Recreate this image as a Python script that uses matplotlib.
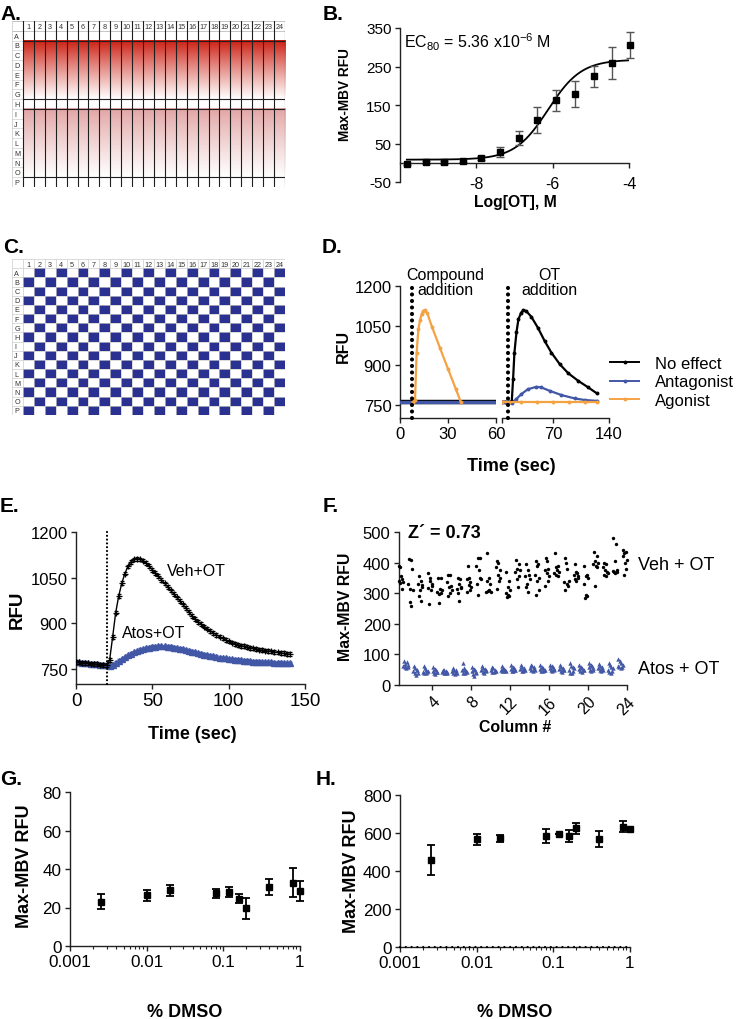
import numpy as np
import matplotlib
matplotlib.use('Agg')
import matplotlib.pyplot as plt
from matplotlib.lines import Line2D
from matplotlib.colors import ListedColormap

plt.rcParams['font.family'] = ['Liberation Sans', 'DejaVu Sans']
plt.rcParams['mathtext.fontset'] = 'custom'
plt.rcParams['mathtext.rm'] = 'Liberation Sans'
plt.rcParams['mathtext.it'] = 'Liberation Sans:italic'
plt.rcParams['mathtext.bf'] = 'Liberation Sans:bold'
plt.rcParams['axes.unicode_minus'] = False

# ---------------- data ----------------
PLATE_ROWS = list('ABCDEFGHIJKLMNOP')
PLATE_COLS = list(range(1, 25))

# B: OT dose response
B_LOGC = [-9.82, -9.33, -8.84, -8.36, -7.87, -7.38, -6.89, -6.40, -5.91, -5.42, -4.93, -4.44, -3.98]
B_RFU = [-4, 1, 1, 5, 13, 28, 64, 111, 162, 179, 225, 259, 306]
B_SEM = [3, 3, 3, 4, 5, 14, 18, 33, 28, 33, 27, 41, 34]
B_FIT = dict(bottom=8, top=268, logec50=-6.12, hill=1.0)

# D: schematic traces
D_T_CMP = [0, 10, 20, 30, 40, 50, 60]
D_BASE_CMP = [761, 761, 761, 761, 761, 761, 761]
D_T_AGO = [8, 9.4, 10.4, 11.5, 12.5, 13.5, 14.5, 15.6, 17, 20, 25, 30, 35, 38]
D_AGO = [761, 770, 948, 1036, 1070, 1093, 1104, 1109, 1098, 1045, 965, 886, 808, 761]
D_T_NOEFF = [6.3, 10, 15.5, 18.5, 20.1, 21.8, 24.3, 26.8, 30.2, 33.1, 36.5, 42.8, 51.1, 59.5,
             67.9, 78.4, 88.9, 101.4, 114, 124.5]
D_NOEFF = [761, 761, 761, 765, 847, 948, 1024, 1074, 1099, 1109, 1105, 1084, 1042, 992,
           948, 904, 870, 841, 816, 794]
D_T_ANT = [6.3, 10, 15.5, 18.5, 23.9, 30.2, 38.6, 49, 55.3, 65.8, 80.5, 97.2, 110, 124.5]
D_ANT = [761, 761, 761, 756, 771, 790, 809, 818, 816, 803, 787, 774, 768, 765]
D_T_AGO_OT = [6.3, 15.5, 30, 50, 70, 90, 110, 124.5]
D_AGO_OT = [761, 761, 761, 761, 761, 761, 761, 761]
D_ADD_CMP = 7.3
D_ADD_OT = 14.3

# E: kinetic traces
E_T = list(range(0, 141, 2))
E_VEH = [772, 771, 770, 769, 768, 767, 766, 765, 764, 763, 762, 778, 855, 935, 990, 1032,
         1063, 1087, 1102, 1110, 1112, 1110, 1106, 1098, 1088, 1076, 1066, 1055, 1043, 1031,
         1020, 1008, 996, 985, 973, 962, 949, 936, 924, 914, 905, 897, 889, 882, 875, 868,
         862, 856, 850, 845, 840, 836, 832, 829, 826, 824, 821, 819, 817, 815, 813, 811,
         810, 808, 807, 805, 804, 802, 801, 799, 798]
E_ATOS = [772, 771, 770, 769, 768, 767, 766, 765, 764, 763, 762, 760, 764, 770, 776, 782,
          788, 794, 799, 804, 808, 812, 815, 818, 820, 822, 823, 824, 824, 824, 823, 822,
          820, 818, 816, 814, 811, 809, 806, 804, 801, 799, 797, 795, 793, 791, 789, 787,
          785, 784, 782, 781, 780, 779, 778, 777, 776, 775, 774, 773, 773, 772, 772, 771,
          771, 770, 770, 770, 769, 769, 769]
E_VEH_SEM = 6
E_ATOS_SEM = 5
E_ADD = 20.5

# F: plate uniformity (8 wells per column)
F_VEH = [
    [390, 340, 386, 333, 355, 315, 345, 338], [330, 412, 270, 315, 408, 258, 378, 310],
    [330, 290, 355, 310, 340, 275, 328, 320], [318, 365, 265, 340, 350, 310, 330, 322],
    [305, 350, 298, 268, 315, 350, 302, 310], [335, 290, 360, 320, 358, 300, 325, 310],
    [315, 350, 300, 275, 330, 345, 320, 318], [345, 305, 390, 328, 350, 310, 335, 320],
    [390, 330, 415, 295, 375, 415, 350, 345], [305, 430, 340, 308, 350, 310, 330, 305],
    [385, 315, 405, 360, 400, 340, 375, 350], [300, 370, 287, 320, 295, 340, 290, 310],
    [370, 410, 345, 380, 320, 395, 355, 375], [355, 320, 395, 330, 375, 305, 360, 345],
    [360, 405, 295, 390, 340, 395, 310, 350], [375, 325, 415, 365, 405, 340, 380, 355],
    [365, 430, 360, 385, 375, 355, 390, 370], [335, 415, 310, 400, 330, 380, 325, 340],
    [360, 395, 345, 370, 340, 365, 350, 355], [330, 390, 285, 355, 295, 360, 290, 350],
    [395, 435, 325, 405, 390, 420, 385, 400], [385, 400, 360, 375, 355, 395, 370, 365],
    [372, 480, 370, 405, 365, 460, 375, 370], [420, 440, 360, 430, 400, 435, 380, 410],
]
F_ATOS = [
    [62, 80, 58, 70, 55, 75, 60, 65], [45, 62, 38, 55, 32, 50, 48, 40],
    [43, 62, 40, 55, 38, 48, 42, 45], [46, 58, 40, 52, 36, 48, 44, 42],
    [44, 50, 40, 48, 38, 46, 42, 40], [45, 55, 38, 50, 36, 48, 42, 40],
    [48, 72, 40, 55, 38, 50, 45, 42], [45, 58, 35, 52, 30, 48, 42, 40],
    [50, 62, 42, 55, 40, 52, 48, 45], [48, 60, 44, 55, 42, 50, 46, 45],
    [50, 62, 46, 56, 45, 52, 48, 47], [52, 65, 46, 60, 45, 55, 50, 48],
    [52, 65, 46, 60, 45, 56, 50, 48], [55, 66, 48, 62, 46, 58, 52, 50],
    [52, 65, 46, 60, 45, 55, 50, 48], [55, 66, 48, 62, 46, 58, 52, 50],
    [52, 65, 46, 60, 44, 55, 50, 48], [50, 72, 40, 62, 38, 58, 45, 55],
    [52, 65, 46, 60, 44, 56, 50, 48], [58, 72, 48, 66, 45, 62, 54, 50],
    [55, 68, 48, 62, 46, 58, 52, 50], [50, 72, 42, 66, 40, 60, 46, 55],
    [62, 85, 58, 78, 56, 72, 60, 66],
]

# G / H: DMSO tolerance
G_DMSO = [0.0025, 0.01, 0.02, 0.08, 0.12, 0.16, 0.2, 0.4, 0.8, 1.0]
G_RFU = [23.0, 26.3, 28.9, 27.4, 28.0, 24.6, 19.6, 30.6, 32.9, 28.6]
G_SEM = [4.0, 2.8, 2.8, 2.4, 2.5, 2.5, 5.4, 4.3, 7.4, 5.0]
H_DMSO = [0.0025, 0.01, 0.02, 0.08, 0.12, 0.16, 0.2, 0.4, 0.8, 1.0]
H_RFU = [458, 567, 572, 585, 595, 586, 625, 569, 632, 620]
H_SEM = [77, 29, 20, 36, 0, 32, 28, 44, 29, 0]

RED = '#cc1b0e'
PINK = '#e2a3a3'
NAVY = '#2b3191'
BLUE = '#4257a6'
ORANGE = '#f4a244'

# ---------------- layout helpers ----------------
W, H = 736, 1020
fig = plt.figure(figsize=(W / 100, H / 100), dpi=100)


def add_ax(l, t, r, b):
    return fig.add_axes([l / W, 1 - b / H, (r - l) / W, (b - t) / H])


def ftext(x, y, s, **kw):
    kw.setdefault('ha', 'center')
    kw.setdefault('va', 'center')
    return fig.text(x / W, 1 - y / H, s, **kw)


def style(ax, size=12):
    for s in ('top', 'right'):
        ax.spines[s].set_visible(False)
    for s in ('left', 'bottom'):
        ax.spines[s].set_linewidth(1.0)
        ax.spines[s].set_color('#222222')
    ax.tick_params(direction='out', length=3.6, width=1.0, color='#222222',
                   labelsize=size, pad=2.5)
    ax.patch.set_alpha(0)


def letter(x, y, s):
    ftext(x, y, s, ha='left', va='baseline', fontsize=15, fontweight='bold')


# ---------------- A / C plates ----------------
def plate_labels(ax):
    ax.set_xlim(0, 25)
    ax.set_ylim(17, 0)
    ax.axis('off')
    for i, c in enumerate(PLATE_COLS):
        ax.text(i + 1.5, 0.55, str(c), ha='center', va='center', fontsize=5.2, color='#333333')
    for j, r in enumerate(PLATE_ROWS):
        ax.text(0.2, j + 1.55, r, ha='left', va='center', fontsize=5.2, color='#333333')


axA = add_ax(12, 22, 285, 188)
fade = np.linspace(0, 1, 256)[:, None, None] ** 0.9
for color, y0, y1 in ((RED, 2, 8), (PINK, 9, 16)):
    rgb = np.array(matplotlib.colors.to_rgb(color))
    img = rgb * (1 - fade) + fade
    axA.imshow(img, extent=(1, 25, y1, y0), aspect='auto', interpolation='bilinear')
plate_labels(axA)
for y in range(0, 18):
    axA.plot([0, 1], [y, y], color='#cfcfcf', lw=0.5)
for y in (0, 1, 17):
    axA.plot([0, 25], [y, y], color='#bdbdbd', lw=0.6)
axA.plot([0, 0], [0, 17], color='#cfcfcf', lw=0.6)
for x in range(1, 26):
    axA.plot([x, x], [0, 17], color='#1e1e1e', lw=0.8)
for y in (2, 8, 9, 16):
    axA.plot([1, 25], [y, y], color='#1e1e1e', lw=0.8)

axC = add_ax(12, 260, 285, 416)
layout = np.array([[(r + c) % 2 == 0 for c in PLATE_COLS] for r in range(len(PLATE_ROWS))], float)
axC.pcolormesh(np.arange(1, 26), np.arange(1, 18), layout,
               cmap=ListedColormap(['white', NAVY]), vmin=0, vmax=1)
plate_labels(axC)
for y in range(0, 18):
    axC.plot([0, 25], [y, y], color='#cccccc', lw=0.5)
for x in range(0, 26):
    axC.plot([x, x], [0, 17], color='#cccccc', lw=0.5)

# ---------------- B ----------------
axB = add_ax(400, 29, 629, 183)
style(axB, 11)
axB.set_xlim(-10, -4)
axB.set_ylim(-50, 350)
axB.spines['bottom'].set_position(('data', 0))
axB.set_xticks([-8, -6, -4])
axB.set_yticks([-50, 50, 150, 250, 350])
axB.tick_params(axis='x', pad=6, labelsize=11.5)
xx = np.linspace(B_LOGC[0], B_LOGC[-1], 300)
p = B_FIT
axB.plot(xx, p['bottom'] + (p['top'] - p['bottom']) / (1 + 10 ** ((p['logec50'] - xx) * p['hill'])),
         color='black', lw=1.3, zorder=3)
axB.errorbar(B_LOGC, B_RFU, yerr=B_SEM, fmt='s', color='black', ms=4.5, ecolor='#555555',
             elinewidth=1, capsize=3, capthick=1, zorder=4, clip_on=False)
ftext(404, 48, r'EC$\mathregular{_{80}}$ = 5.36 x10$\mathregular{^{-6}}$ M',
      ha='left', va='baseline', fontsize=11.5)
ftext(345, 95, 'Max-MBV RFU', rotation=90, fontsize=9.8, fontweight='bold')
ftext(515, 203, 'Log[OT], M', fontsize=11.3, fontweight='bold')

# ---------------- D ----------------
axDL = add_ax(400, 287, 496, 419)
axDR = add_ax(502, 287, 609, 419)
for ax in (axDL, axDR):
    style(ax, 12)
    ax.set_ylim(700, 1200)
axDL.set_xlim(0, 60)
axDL.set_xticks([0, 30, 60])
axDL.set_yticks([750, 900, 1050, 1200])
axDR.set_xlim(D_T_NOEFF[0] - 0.05, 140)
axDR.set_xticks([D_T_NOEFF[0] - 0.05, 70, 140])
axDR.set_xticklabels(['', '70', '140'])
axDR.spines['left'].set_visible(False)
axDR.set_yticks([])

kw = dict(marker='o', ms=1.8, lw=1.6)
axDL.plot(D_T_CMP, D_BASE_CMP, color='black', lw=3.2, zorder=2)
axDL.plot(D_T_CMP, D_BASE_CMP, color=BLUE, lw=2.4, zorder=3)
axDL.plot(D_T_AGO, D_AGO, color=ORANGE, zorder=4, **kw)
axDR.plot(D_T_NOEFF, D_NOEFF, color='black', zorder=2, **kw)
axDR.plot(D_T_ANT, D_ANT, color=BLUE, zorder=3, **kw)
axDR.plot(D_T_AGO_OT, D_AGO_OT, color=ORANGE, zorder=4, **kw)
dots = dict(color='black', lw=3.0, linestyle=(0, (0.01, 1.55)), dash_capstyle='round',
            clip_on=False, zorder=5)
axDL.plot([D_ADD_CMP, D_ADD_CMP], [700, 1212], **dots)
axDR.plot([D_ADD_OT, D_ADD_OT], [700, 1212], **dots)
ftext(445, 283, 'Compound\naddition', fontsize=11.5, linespacing=1.05)
ftext(549, 283, 'OT\naddition', fontsize=11.5, linespacing=1.05)
handles = [Line2D([], [], color=c, marker='o', ms=1.8, lw=1.4) for c in ('black', BLUE, ORANGE)]
fig.legend(handles, ['No effect', 'Antagonist', 'Agonist'], loc='center left',
           bbox_to_anchor=(610 / W, 1 - 383 / H), frameon=False, fontsize=12,
           handlelength=1.75, handletextpad=0.95, labelspacing=0.22, borderpad=0,
           borderaxespad=0)
ftext(343, 346, 'RFU', rotation=90, fontsize=11.5, fontweight='bold')
ftext(511, 467, 'Time (sec)', fontsize=13, fontweight='bold')

# ---------------- E ----------------
axE = add_ax(76, 533, 305, 685)
style(axE, 12)
axE.tick_params(axis='x', labelsize=13.5)
axE.set_xlim(0, 150)
axE.set_ylim(700, 1200)
axE.set_xticks([0, 50, 100, 150])
axE.set_yticks([750, 900, 1050, 1200])
axE.errorbar(E_T, E_ATOS, yerr=E_ATOS_SEM, fmt='-', marker='^', ms=4, color=BLUE, lw=1,
             elinewidth=0.9, capsize=1.5, zorder=2)
axE.errorbar(E_T, E_VEH, yerr=E_VEH_SEM, fmt='-', marker='+', ms=5, mew=0.9, color='black',
             lw=1, elinewidth=0.8, capsize=1.5, zorder=3)
axE.plot([E_ADD, E_ADD], [700, 1205], color='black', lw=1.6, linestyle=(0, (0.01, 1.7)),
         dash_capstyle='round', clip_on=False, zorder=4)
ftext(167, 571, 'Veh+OT', ha='left', fontsize=11.5)
ftext(122, 634, 'Atos+OT', ha='left', fontsize=11.5)
ftext(17, 610, 'RFU', rotation=90, fontsize=13.5, fontweight='bold')
ftext(192, 735, 'Time (sec)', fontsize=13, fontweight='bold')

# ---------------- F ----------------
axF = add_ax(399, 533, 627, 686)
style(axF, 12)
axF.set_xlim(0.6, 24)
axF.set_ylim(0, 500)
axF.set_yticks([0, 100, 200, 300, 400, 500])
axF.set_xticks([4, 8, 12, 16, 20, 24])
for lab in axF.get_xticklabels():
    lab.set_rotation(45)
    lab.set_ha('right')
    lab.set_va('top')
    lab.set_rotation_mode('anchor')
axF.tick_params(axis='x', labelsize=11.5)
veh_off = np.linspace(-0.45, 0.0, 8)
atos_off = np.linspace(0.05, 0.55, 8)
for c, vals in zip(PLATE_COLS, F_VEH):
    axF.scatter(c + veh_off, vals, s=6, color='black', lw=0, clip_on=False, zorder=3)
for c, vals in zip(PLATE_COLS, F_ATOS):
    axF.scatter(c + atos_off, vals, s=10, marker='^', color=BLUE, lw=0, clip_on=False, zorder=3)
ftext(408, 534, 'Z\u00b4 = 0.73', ha='left', fontsize=13, fontweight='bold')
ftext(638, 566, 'Veh + OT', ha='left', fontsize=13)
ftext(638, 669, 'Atos + OT', ha='left', fontsize=13)
ftext(345, 607, 'Max-MBV RFU', rotation=90, fontsize=11.4, fontweight='bold')
ftext(515, 727, 'Column #', fontsize=11.4, fontweight='bold')

# ---------------- G / H ----------------
def dmso_axes(l, t, r, b, x, y, e, ylim, yticks):
    ax = add_ax(l, t, r, b)
    style(ax, 12.3)
    ax.set_xscale('log')
    ax.set_xlim(0.001, 1)
    ax.set_ylim(*ylim)
    ax.set_yticks(yticks)
    ax.set_xticks([0.001, 0.01, 0.1, 1])
    ax.set_xticklabels(['0.001', '0.01', '0.1', '1'])
    ax.tick_params(axis='x', which='minor', length=2.2, width=0.8, color='#222222')
    ax.errorbar(x, y, yerr=e, fmt='s', color='black', ms=4.5, elinewidth=1.3, capsize=3,
                capthick=1.3, zorder=3, clip_on=False)
    return ax


axG = dmso_axes(70, 793, 300, 947, G_DMSO, G_RFU, G_SEM, (0, 80), [0, 20, 40, 60, 80])
axH = dmso_axes(400, 796, 630, 948, H_DMSO, H_RFU, H_SEM, (0, 800), [0, 200, 400, 600, 800])
axH.plot([0.001, 1], [0, 0], color='black', lw=1.6, linestyle=(0, (0.01, 2.6)),
         dash_capstyle='round', clip_on=False, zorder=4)
ftext(25, 866, 'Max-MBV RFU', rotation=90, fontsize=13, fontweight='bold')
ftext(351, 871, 'Max-MBV RFU', rotation=90, fontsize=13, fontweight='bold')
ftext(185, 1013, '% DMSO', fontsize=13, fontweight='bold')
ftext(515, 1013, '% DMSO', fontsize=13, fontweight='bold')

# ---------------- panel letters ----------------
letter(0, 20, 'A.')
letter(323, 20, 'B.')
letter(3, 253, 'C.')
letter(322, 253, 'D.')
letter(0, 512, 'E.')
letter(323, 512, 'F.')
letter(0, 785, 'G.')
letter(316, 785, 'H.')

fig.savefig('out.png', dpi=100)
